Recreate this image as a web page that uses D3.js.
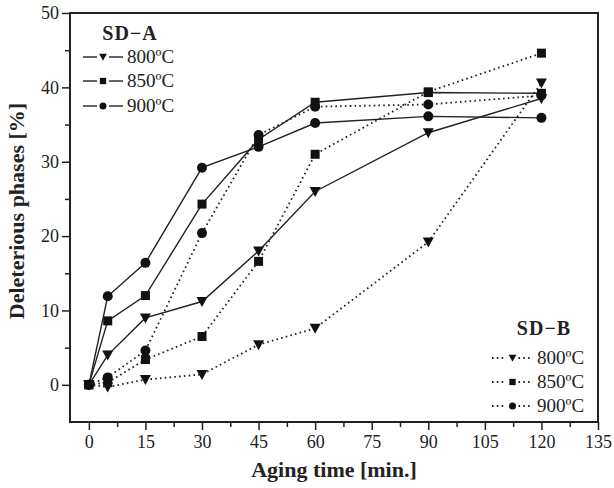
<!DOCTYPE html>
<html>
<head>
<meta charset="UTF-8">
<title>Deleterious phases</title>
<style>
  body { margin: 0; background: #fff; }
  text { font-family: "Liberation Serif", "Times New Roman", serif; fill: #222; }
</style>
</head>
<body>
<svg width="614" height="488"></svg>
<script src="https://cdn.jsdelivr.net/npm/d3@7"></script>
<script>
const times = [0, 5, 15, 30, 45, 60, 90, 120];
const xTicks = [0, 15, 30, 45, 60, 75, 90, 105, 120, 135];
const yTicks = [0, 10, 20, 30, 40, 50];

// SD-A (solid lines)
const sdA800 = [0, 4.0, 9.0, 11.2, 18.0, 26.0, 33.9, 38.5];
const sdA850 = [0, 8.6, 12.0, 24.3, 33.0, 38.0, 39.3, 39.2];
const sdA900 = [0, 11.9, 16.4, 29.2, 32.0, 35.2, 36.1, 35.9];
// SD-B (dotted lines)
const sdB800 = [0, -0.3, 0.7, 1.4, 5.4, 7.6, 19.2, 40.6];
const sdB850 = [0, 0.3, 3.4, 6.5, 16.6, 31.0, 39.4, 44.6];
const sdB900 = [0, 1.0, 4.6, 20.4, 33.6, 37.4, 37.7, 38.9];

const series = [
  { group: "A", label: "800ºC", sym: "tri", values: sdA800 },
  { group: "A", label: "850ºC", sym: "sq", values: sdA850 },
  { group: "A", label: "900ºC", sym: "circ", values: sdA900 },
  { group: "B", label: "800ºC", sym: "tri", values: sdB800 },
  { group: "B", label: "850ºC", sym: "sq", values: sdB850 },
  { group: "B", label: "900ºC", sym: "circ", values: sdB900 }
];

const svg = d3.select("svg"),
  margin = { top: 13, right: 16, bottom: 66, left: 70 },
  width = +svg.attr("width") - margin.left - margin.right,
  height = +svg.attr("height") - margin.top - margin.bottom,
  g = svg.append("g").attr("transform", `translate(${margin.left},${margin.top})`);

const x = d3.scaleLinear().domain([-5, 135]).range([0, width]);
const y = d3.scaleLinear().domain([-5, 50]).range([height, 0]);

// minor ticks
g.append("g")
  .attr("transform", `translate(0,${height})`)
  .call(d3.axisBottom(x).tickValues(d3.range(7.5, 135, 15)).tickSize(5).tickFormat(""))
  .call(a => a.select(".domain").remove());
g.append("g")
  .call(d3.axisLeft(y).tickValues(d3.range(5, 50, 10)).tickSize(5).tickFormat(""))
  .call(a => a.select(".domain").remove());

const xAxis = g.append("g")
  .attr("transform", `translate(0,${height})`)
  .call(d3.axisBottom(x).tickValues(xTicks).tickSize(8).tickPadding(5));
xAxis.select(".domain").remove();
xAxis.selectAll("text").style("font-size", "18px");

const yAxis = g.append("g")
  .call(d3.axisLeft(y).tickValues(yTicks).tickSize(8).tickPadding(3));
yAxis.select(".domain").remove();
yAxis.selectAll("text").style("font-size", "18px");

g.selectAll(".tick line").attr("stroke", "#222").attr("stroke-width", 1.5);

g.append("rect")
  .attr("width", width).attr("height", height)
  .attr("fill", "none").attr("stroke", "#222").attr("stroke-width", 2);

const line = d3.line().x((d, i) => x(times[i])).y(d => y(d));

function marker(sel, sym, k) {
  k = k || 1;
  if (sym === "tri") {
    sel.append("path").attr("d", `M${-5.5 * k},${-4.5 * k}L${5.5 * k},${-4.5 * k}L0,${5.5 * k}Z`).attr("fill", "#111");
  } else if (sym === "sq") {
    sel.append("rect").attr("x", -4.5 * k).attr("y", -4.5 * k).attr("width", 9 * k).attr("height", 9 * k).attr("fill", "#111");
  } else {
    sel.append("circle").attr("r", 5 * k).attr("fill", "#111");
  }
}

series.forEach(s => {
  g.append("path")
    .datum(s.values)
    .attr("fill", "none")
    .attr("stroke", "#222")
    .attr("stroke-width", s.group === "A" ? 1.4 : 1.8)
    .attr("stroke-dasharray", s.group === "A" ? null : "1.6,3.2")
    .attr("d", line);
  s.values.forEach((v, i) => {
    g.append("g").attr("transform", `translate(${x(times[i])},${y(v)})`).call(marker, s.sym);
  });
});

// legends
function legend(title, group, tx, ty, lx0, lx1, rows) {
  svg.append("text").attr("x", tx).attr("y", ty).attr("text-anchor", "middle")
    .style("font-size", "20px").style("font-weight", "bold").style("letter-spacing", "1px").text(title);
  const mid = (lx0 + lx1) / 2;
  series.filter(s => s.group === group).forEach((s, i) => {
    const ry = rows[i];
    [[lx0, mid - 6], [mid + 6, lx1]].forEach(([a, b]) => {
      svg.append("line").attr("x1", a).attr("x2", b).attr("y1", ry).attr("y2", ry)
        .attr("stroke", "#222").attr("stroke-width", group === "A" ? 1.4 : 1.8)
        .attr("stroke-dasharray", group === "A" ? null : "1.6,3.2");
    });
    svg.append("g").attr("transform", `translate(${mid},${ry})`).call(marker, s.sym, 0.7);
    svg.append("text").attr("x", lx1 + 4).attr("y", ry + 6)
      .style("font-size", "19px").text(s.label);
  });
}
legend("SD\u2212A", "A", 130, 40, 83, 123, [57, 81, 106]);
legend("SD\u2212B", "B", 544, 335, 492, 533, [358, 382, 406]);

svg.append("text")
  .attr("x", 334).attr("y", 477).attr("text-anchor", "middle")
  .style("font-size", "22px").style("font-weight", "bold").text("Aging time [min.]");
svg.append("text")
  .attr("transform", "translate(24,211) rotate(-90)").attr("text-anchor", "middle")
  .style("font-size", "22px").style("font-weight", "bold").text("Deleterious phases [%]");
</script>
</body>
</html>
